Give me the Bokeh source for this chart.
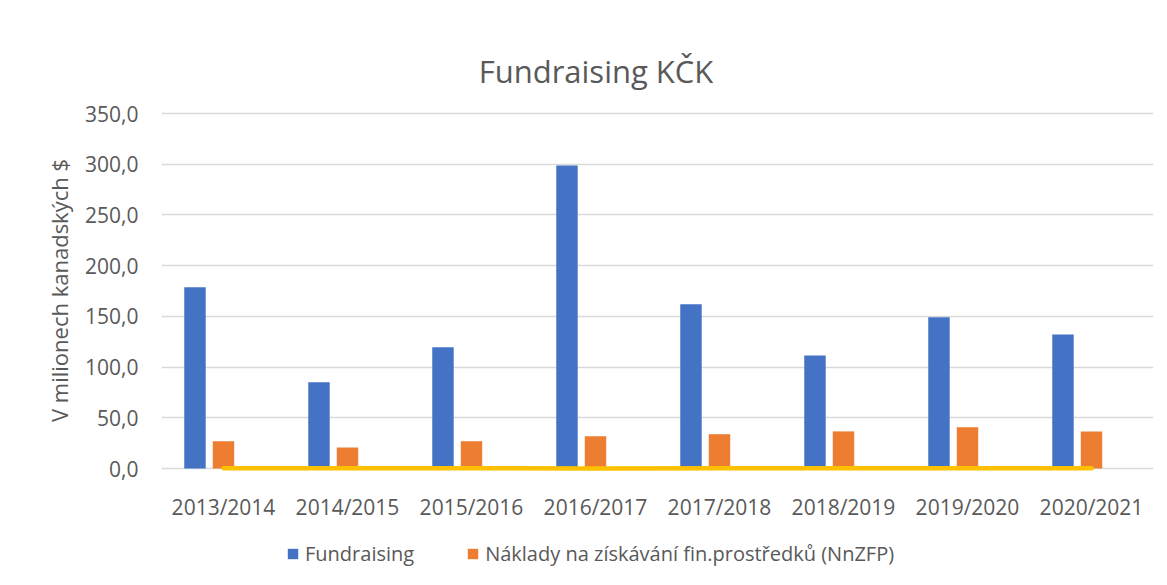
from bokeh.plotting import figure
from bokeh.models import (FactorRange, Range1d, ColumnDataSource, Legend, LegendItem,
                          Label, FixedTicker)
from bokeh.core.properties import value
from bokeh.transform import dodge
from bokeh.embed import file_html
from bokeh.resources import INLINE

# ---- data ----
categories = ["2013/2014", "2014/2015", "2015/2016", "2016/2017",
              "2017/2018", "2018/2019", "2019/2020", "2020/2021"]
fundraising = [178.7, 85.0, 119.5, 298.7, 162.0, 111.5, 149.0, 132.0]
naklady = [26.9, 20.7, 26.9, 31.8, 33.8, 36.6, 40.7, 36.6]
podil = [0.15, 0.24, 0.23, 0.11, 0.21, 0.33, 0.28, 0.28]
y_ticks = [0, 50, 100, 150, 200, 250, 300, 350]
y_tick_labels = ["0,0", "50,0", "100,0", "150,0", "200,0", "250,0", "300,0", "350,0"]
title_text = "Fundraising KČK"
y_title = "V milionech kanadských $"
series_names = ["Fundraising", "Náklady na získávání fin.prostředků (NnZFP)"]

FONT = "Open Sans"
TXT = "#595959"
BLUE = "#4472C4"
ORANGE = "#ED7D31"
YELLOW = "#FFC000"
GRID = "#D9D9D9"

W, H = 1160, 580
FRAME_L, FRAME_R = 161, 1153
ZERO_Y, TOP_Y = 468, 113          # page pixels of value 0 and 350
ppu = (ZERO_Y - TOP_Y) / 350.0
y_lo = -(H - ZERO_Y) / ppu
y_hi = ZERO_Y / ppu

src = ColumnDataSource(dict(cat=categories, f=fundraising, n=naklady, r=podil,
                            zero=[0] * len(categories)))

p = figure(width=W, height=H, output_backend="svg", toolbar_location=None,
           x_range=FactorRange(factors=categories, range_padding=0),
           y_range=Range1d(y_lo, y_hi), x_axis_location=None,
           min_border_left=FRAME_L, min_border_right=W - FRAME_R,
           min_border_top=0, min_border_bottom=0)
p.outline_line_color = None
p.background_fill_color = "white"
p.border_fill_color = "white"

b1 = p.vbar(x=dodge("cat", -0.23, range=p.x_range), top="f", width=0.173, source=src,
            fill_color=BLUE, line_color=None)
b2 = p.vbar(x=dodge("cat", 0.0, range=p.x_range), top="n", width=0.173, source=src,
            fill_color=ORANGE, line_color=None)
p.line(x="cat", y="r", source=src, line_color=YELLOW, line_width=4.5, line_cap="round")

# category labels under the zero line
p.text(x="cat", y="zero", text="cat", source=src, y_offset=38.5,
       text_align="center", text_baseline="alphabetic",
       text_font=value(FONT), text_font_size="21px", text_color=TXT)

# y axis
ax = p.yaxis[0]
ax.ticker = FixedTicker(ticks=y_ticks)
ax.major_label_overrides = {t: l for t, l in zip(y_ticks, y_tick_labels)}
ax.axis_line_color = None
ax.major_tick_line_color = None
ax.minor_tick_line_color = None
ax.major_tick_out = 0
ax.major_tick_in = 0
ax.major_label_text_font = FONT
ax.major_label_text_font_size = "21px"
ax.major_label_text_color = TXT
ax.major_label_standoff = 23
ax.axis_label = y_title
ax.axis_label_text_font = FONT
ax.axis_label_text_font_size = "22px"
ax.axis_label_text_font_style = "normal"
ax.axis_label_text_color = TXT
ax.axis_label_standoff = 8

p.xgrid.grid_line_color = None
p.ygrid.grid_line_color = GRID
p.ygrid.grid_line_width = 1.5

# title (screen units relative to frame bottom-left)
p.add_layout(Label(x=595.5 - FRAME_L, y=H - 70.7, x_units="screen", y_units="screen",
                   text=title_text, text_align="center", text_baseline="alphabetic",
                   text_font=FONT, text_font_size="31px", text_color=TXT))

legend = Legend(items=[LegendItem(label=series_names[0], renderers=[b1]),
                       LegendItem(label=series_names[1], renderers=[b2])],
                orientation="horizontal", location=(286 - FRAME_L, H - 566.5),
                glyph_width=13, glyph_height=13, label_standoff=6, spacing=52,
                padding=0, margin=0, border_line_color=None, background_fill_alpha=0,
                label_text_font=FONT, label_text_font_size="20px", label_text_color=TXT)
p.add_layout(legend, "center")

open("out.html", "w").write(file_html(p, INLINE))
